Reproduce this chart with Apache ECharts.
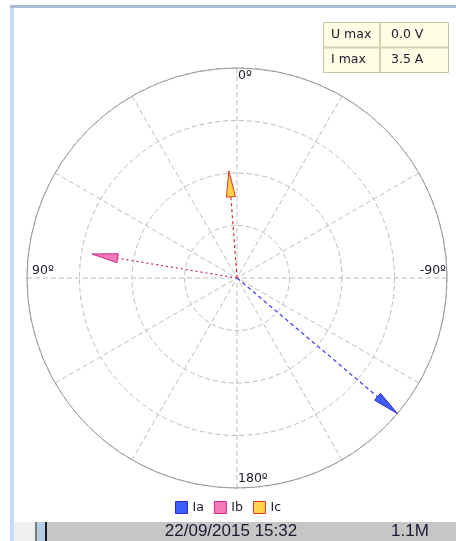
<!DOCTYPE html>
<html>
<head>
<meta charset="utf-8">
<script src="https://cdn.jsdelivr.net/npm/echarts@6/dist/echarts.min.js"></script>
<style>
  html, body { margin: 0; padding: 0; background: #fff; }
  #chart { width: 456px; height: 541px; }
</style>
</head>
<body>
<div id="chart"></div>
<script>
// phasor data
var phaseNames = ['Ia', 'Ib', 'Ic']
var phaseAmps = [3.5, 2.45, 1.79]       // A
var phaseAngles = [-130.2, 80.6, 4.3]   // degrees, 0 at top, counter-clockwise
var iMax = 3.5

// info table + labels
var maxLabels = ['U max', 'I max']
var maxValues = ['0.0 V', '3.5 A']
var angleLabels = ['0º', '90º', '180º', '-90º']
var stampText = '22/09/2015 15:32'
var sizeText = '1.1M'

var CX = 237, CY = 278, R = 210
var FONT = 'DejaVu Sans'

var phaseStyle = [
  { fill: '#3f5cff', border: '#2a2ad0', line: '#3a3af0', dash: [4, 3] },
  { fill: '#f27ab8', border: '#d02a88', line: '#d0207e', dash: [2, 3] },
  { fill: '#ffd24a', border: '#e03a22', line: '#d83030', dash: [3, 3] }
]

function renderVector(params, api) {
  var r = api.value(0)
  var a = api.value(1)
  var o = api.coord([0, a])
  var tip = api.coord([r, a])
  var dx = tip[0] - o[0]
  var dy = tip[1] - o[1]
  var len = Math.sqrt(dx * dx + dy * dy)
  var ux = dx / len
  var uy = dy / len
  var headLen = 26
  var headW = 4.5
  var bx = tip[0] - ux * headLen
  var by = tip[1] - uy * headLen
  var st = phaseStyle[params.seriesIndex]
  return {
    type: 'group',
    children: [
      {
        type: 'line',
        shape: { x1: o[0], y1: o[1], x2: bx, y2: by },
        style: { stroke: st.line, lineWidth: 1.2, lineDash: st.dash }
      },
      {
        type: 'polygon',
        shape: { points: [tip, [bx - uy * headW, by + ux * headW], [bx + uy * headW, by - ux * headW]] },
        style: { fill: st.fill, stroke: st.border, lineWidth: 1 }
      }
    ]
  }
}

var series = phaseNames.map(function(name, i) {
  return {
    name: name,
    type: 'custom',
    coordinateSystem: 'polar',
    renderItem: renderVector,
    itemStyle: { color: phaseStyle[i].fill },
    data: [[phaseAmps[i], (phaseAngles[i] + 360) % 360]],
    z: 5
  }
})

var legendData = phaseNames.map(function(name, i) {
  return {
    name: name,
    icon: 'rect',
    itemStyle: { color: phaseStyle[i].fill, borderColor: phaseStyle[i].border, borderWidth: 1 }
  }
})

var textStyle = { fill: '#1a1a2a', font: '12.5px "' + FONT + '"' }

var graphics = [
  // window frame
  { type: 'rect', shape: { x: 10, y: 5, width: 446, height: 3 }, style: { fill: '#a9bcd2' }, silent: true },
  { type: 'rect', shape: { x: 10, y: 8, width: 4, height: 533 }, style: { fill: '#c4dcfa' }, silent: true },
  // status bar
  { type: 'rect', shape: { x: 14, y: 522, width: 21, height: 19 }, style: { fill: '#efefef' }, silent: true },
  { type: 'rect', shape: { x: 35, y: 522, width: 2, height: 19 }, style: { fill: '#7a7a7a' }, silent: true },
  { type: 'rect', shape: { x: 37, y: 522, width: 8, height: 19 }, style: { fill: '#b6cde6' }, silent: true },
  { type: 'rect', shape: { x: 45, y: 522, width: 2, height: 19 }, style: { fill: '#1a1a1a' }, silent: true },
  { type: 'rect', shape: { x: 47, y: 522, width: 409, height: 19 }, style: { fill: '#c6c6c6' }, silent: true },
  { type: 'text', x: 231, y: 531, style: { text: stampText, fill: '#1a1a30', font: '17px "Liberation Sans"', align: 'center', verticalAlign: 'middle' } },
  { type: 'text', x: 410, y: 531, style: { text: sizeText, fill: '#1a1a30', font: '17px "Liberation Sans"', align: 'center', verticalAlign: 'middle' } },
  // info table
  { type: 'rect', shape: { x: 323.5, y: 22.5, width: 125, height: 50 }, style: { fill: '#fffde4', stroke: '#c8c4a8', lineWidth: 1 } },
  { type: 'line', shape: { x1: 324, y1: 47.5, x2: 448, y2: 47.5 }, style: { stroke: '#d6d2b2', lineWidth: 2 } },
  { type: 'line', shape: { x1: 380, y1: 23, x2: 380, y2: 72 }, style: { stroke: '#d6d2b2', lineWidth: 2 } },
  // angle labels
  { type: 'text', x: CX + 1, y: CY - R + 1, style: Object.assign({ text: angleLabels[0], verticalAlign: 'top' }, textStyle) },
  { type: 'text', x: CX - R + 5, y: CY - 1, style: Object.assign({ text: angleLabels[1], verticalAlign: 'bottom' }, textStyle) },
  { type: 'text', x: CX + 1, y: CY + R - 3, style: Object.assign({ text: angleLabels[2], verticalAlign: 'bottom' }, textStyle) },
  { type: 'text', x: CX + R - 1, y: CY - 1, style: Object.assign({ text: angleLabels[3], verticalAlign: 'bottom', align: 'right' }, textStyle) }
]
maxLabels.forEach(function(label, i) {
  var y = 35 + i * 25
  graphics.push({ type: 'text', x: 331, y: y, style: { text: label, fill: '#1a1a2a', font: '12.5px "' + FONT + '"', verticalAlign: 'middle' } })
  graphics.push({ type: 'text', x: 391, y: y, style: { text: maxValues[i], fill: '#1a1a2a', font: '12.5px "' + FONT + '"', verticalAlign: 'middle' } })
})

var chart = echarts.init(document.getElementById('chart'))
chart.setOption({
  backgroundColor: '#fff',
  animation: false,
  polar: { center: [CX, CY], radius: R },
  angleAxis: {
    type: 'value',
    min: 0,
    max: 360,
    interval: 30,
    startAngle: 90,
    clockwise: false,
    axisLine: { show: true, lineStyle: { color: '#9a9a9a', width: 1 } },
    axisTick: { show: false },
    axisLabel: { show: false },
    splitLine: { show: true, lineStyle: { color: '#bdbdbd', type: [5, 3], width: 1 } }
  },
  radiusAxis: {
    type: 'value',
    min: 0,
    max: iMax,
    interval: iMax / 4,
    axisLine: { show: false },
    axisTick: { show: false },
    axisLabel: { show: false },
    splitLine: { show: true, lineStyle: { color: '#bdbdbd', type: [5, 3], width: 1 } }
  },
  legend: {
    data: legendData,
    left: 170,
    top: 496,
    itemWidth: 12,
    itemHeight: 12,
    itemGap: 10,
    textStyle: { fontFamily: FONT, fontSize: 12.5, color: '#1a1a2a', lineHeight: 12 }
  },
  graphic: graphics,
  series: series
})
</script>
</body>
</html>
